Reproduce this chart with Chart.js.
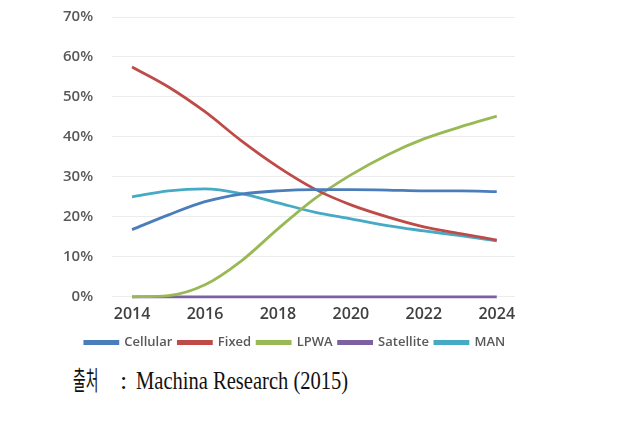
<!DOCTYPE html>
<html>
<head>
<meta charset="utf-8">
<script src="https://cdn.jsdelivr.net/npm/chart.js@4/dist/chart.umd.min.js"></script>
<style>
  body { margin: 0; background: #fff; width: 641px; height: 421px; overflow: hidden; position: relative; }
  #wrap { position: absolute; left: 0; top: 0; width: 641px; height: 359px; }
  #source span { position: absolute; white-space: nowrap; color: #111; transform-origin: 0 0; line-height: 1; }
  #src-ko { left: 73px; top: 366px; font: 26px "Noto Sans CJK KR", sans-serif; transform: scaleX(0.53); }
  #src-colon { left: 120px; top: 368px; font: 26px "Liberation Serif", serif; }
  #src-en { left: 136px; top: 368px; font: 26px "Liberation Serif", serif; transform: scaleX(0.79); }
</style>
</head>
<body>
<div id="wrap"><canvas id="chart"></canvas></div>
<div id="source"><span id="src-ko">출처</span><span id="src-colon">:</span><span id="src-en">Machina Research (2015)</span></div>
<script>
// ===== Data =====
const years = [2014, 2015, 2016, 2017, 2018, 2019, 2020, 2021, 2022, 2023, 2024];
const cellular = [16.8, 20.5, 23.8, 25.7, 26.5, 26.8, 26.8, 26.7, 26.5, 26.5, 26.3];
const fixed = [57.5, 52.5, 46.3, 39.0, 32.5, 27.0, 23.0, 20.0, 17.5, 15.8, 14.2];
const lpwa = [0, 0.3, 3.0, 9.0, 17.0, 24.5, 30.5, 35.5, 39.5, 42.5, 45.2];
const satellite = [0, 0, 0, 0, 0, 0, 0, 0, 0, 0, 0];
const man = [25.0, 26.5, 27.0, 25.8, 23.5, 21.2, 19.5, 17.8, 16.5, 15.3, 14.0];
const yTicks = [0, 10, 20, 30, 40, 50, 60, 70];
const xTicks = [2014, 2016, 2018, 2020, 2022, 2024];

function pts(vals) {
    return vals.map((v, i) => ({ x: years[i], y: v }));
}

function series(label, vals, color) {
    return {
        label: label,
        data: pts(vals),
        borderColor: color,
        backgroundColor: color,
        borderWidth: 2.8,
        pointRadius: 0,
        clip: 6,
        cubicInterpolationMode: 'monotone'
    };
}

const ctx = document.getElementById('chart');
new Chart(ctx, {
    type: 'line',
    data: {
        datasets: [
            series('Cellular', cellular, '#4a7ebb'),
            series('Fixed', fixed, '#be4b48'),
            series('LPWA', lpwa, '#98b954'),
            series('Satellite', satellite, '#7d60a0'),
            series('MAN', man, '#46aac5')
        ]
    },
    options: {
        responsive: true,
        maintainAspectRatio: false,
        animation: false,
        layout: { padding: { left: 75, right: 126, top: 17, bottom: 0 } },
        plugins: {
            tooltip: { enabled: false },
            legend: {
                position: 'bottom',
                labels: {
                    boxWidth: 33,
                    boxHeight: 2,
                    padding: 6,
                    color: '#595959',
                    font: { family: 'Open Sans', size: 13, weight: '600' }
                }
            }
        },
        scales: {
            x: {
                type: 'linear',
                min: 2013.45,
                max: 2024.5,
                afterBuildTicks: (axis) => { axis.ticks = xTicks.map(v => ({ value: v })); },
                afterFit: (axis) => { axis.height += 6; },
                grid: { display: false },
                border: { display: false },
                ticks: {
                    color: '#404040',
                    padding: 0,
                    callback: (v) => String(v),
                    font: { family: 'Open Sans', size: 16, weight: '600' }
                }
            },
            y: {
                min: 0,
                max: 70,
                afterBuildTicks: (axis) => { axis.ticks = yTicks.map(v => ({ value: v })); },
                afterFit: (axis) => { axis.width = 37; },
                grid: { color: '#ececec', lineWidth: 1, drawTicks: false },
                border: { display: false },
                ticks: {
                    mirror: true,
                    crossAlign: 'far',
                    color: '#595959',
                    padding: -49,
                    callback: (v) => v + '%',
                    font: { family: 'Open Sans', size: 15, weight: '600' }
                }
            }
        }
    }
});
</script>
</body>
</html>
